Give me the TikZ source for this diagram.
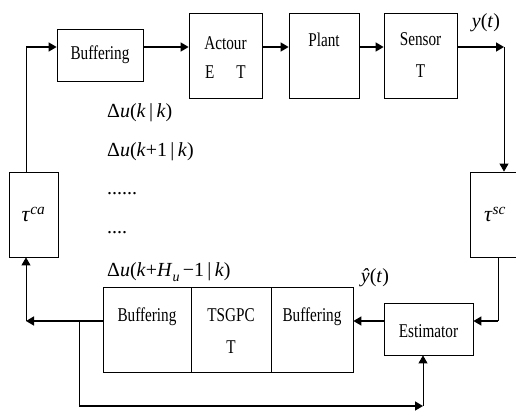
\documentclass[tikz,border=0pt]{standalone}
\usepackage{fontspec}
\setmainfont{Liberation Serif}
\newfontfamily\narrow{Liberation Serif}[FakeStretch=0.78]
\usetikzlibrary{arrows.meta}
\begin{document}
\begin{tikzpicture}[x=1pt,y=-1pt,
  blk/.style={draw, line width=0.8pt, inner sep=0pt, align=center,
    font=\narrow\fontsize{19.5}{29}\selectfont},
  conn/.style={line width=1.6pt, -{Triangle[length=8pt,width=9pt]}},
  thinl/.style={line width=0.9pt},
  thinarrow/.style={line width=0.9pt, -{Triangle[length=8pt,width=9pt]}},
  lab/.style={inner sep=0pt, font=\fontsize{20}{24}\selectfont},
  tau/.style={font=\fontsize{22}{24}\selectfont}]
\useasboundingbox (0,0) rectangle (516,412);
\clip (0,0) rectangle (516,412);
% blocks
\node[blk, minimum width=86pt, minimum height=52pt] (buf1) at (100,55) {Buffering};
\node[blk, minimum width=73pt, minimum height=85pt] (act) at (225.5,55.5) {\rule{0pt}{16pt}Actour\\E\hspace{22pt}T};
\node[blk, minimum width=70pt, minimum height=85pt] (plant) at (324,55.5) {Plant\\[3pt]\phantom{T}};
\node[blk, minimum width=73pt, minimum height=85pt] (sensor) at (420.5,55.5) {Sensor\\[3pt]T};
\node[blk, tau, minimum width=49pt, minimum height=85pt] (tauca) at (33.5,214.5) {\textit{τ}\textsuperscript{\textit{ca}}};
\node[blk, tau, minimum width=50pt, minimum height=85pt] (tausc) at (495,214.5) {\textit{τ}\textsuperscript{\textit{sc}}};
\node[blk, minimum width=88pt, minimum height=85pt] (bbuf) at (147,329.5) {\rule{0pt}{16pt}Buffering\\[3.5pt]\phantom{T}};
\node[blk, minimum width=80pt, minimum height=85pt] (tsgpc) at (231,329.5) {\rule{0pt}{16pt}TSGPC\\[3.5pt]T};
\node[blk, minimum width=82pt, minimum height=85pt] (bbuf2) at (312,329.5) {\rule{0pt}{16pt}Buffering\\[3.5pt]\phantom{T}};
\node[blk, minimum width=89pt, minimum height=52pt] (est) at (428.5,329) {\rule{0pt}{18pt}Estimator};
% helper coordinates
\coordinate (r) at (0,47);
\coordinate (rb) at (0,321);
\coordinate (yc) at (504,47);
\coordinate (sx) at (498,0);
\coordinate (lc) at (26,321);
\coordinate (bx) at (79,321);
\coordinate (bc) at (423,406);
% forward path
\draw[conn] (lc |- r) -- (buf1.west |- r);
\draw[conn] (buf1.east |- r) -- (act.west |- r);
\draw[conn] (act.east |- r) -- (plant.west |- r);
\draw[conn] (plant.east |- r) -- (sensor.west |- r);
\draw[conn] (sensor.east |- r) -- (yc);
\draw[thinarrow] (yc) -- (tausc.north -| yc);
% return path
\draw[thinl] (tausc.south -| sx) -- (sx |- rb);
\draw[conn] (sx |- rb) -- (est.east |- rb);
\draw[conn] (est.west |- rb) -- (bbuf2.east |- rb);
\draw[conn] (bbuf.west |- rb) -- (lc);
\draw[thinarrow] (lc) -- (tauca.south -| lc);
\draw[thinl] (tauca.north -| lc) -- (lc |- r);
% branch
\draw[thinl] (bx) -- (bx |- bc);
\draw[conn] (bx |- bc) -- (bc);
\draw[thinarrow] (bc) -- (est.south -| bc);
% labels
\node[lab] (yt) at (486,23) {\textit{y}(\textit{t})};
\node[lab] (yh) at (375,278) {\textit{ŷ}(\textit{t})};
\node[lab, anchor=west] (d1) at (107,113) {Δ\textit{u}(\textit{k}\,|\,\textit{k})};
\node[lab, anchor=west] (d2) at (107,152) {Δ\textit{u}(\textit{k}+1\,|\,\textit{k})};
\node[lab, anchor=west] (d3) at (107,194) {......};
\node[lab, anchor=west] (d4) at (107,233) {....};
\node[lab, anchor=west] (d5) at (107,272) {Δ\textit{u}(\textit{k}+\textit{H}\raisebox{-5pt}{\fontsize{14}{14}\selectfont\textit{u}}\,−1\,|\,\textit{k})};
\end{tikzpicture}
\end{document}
